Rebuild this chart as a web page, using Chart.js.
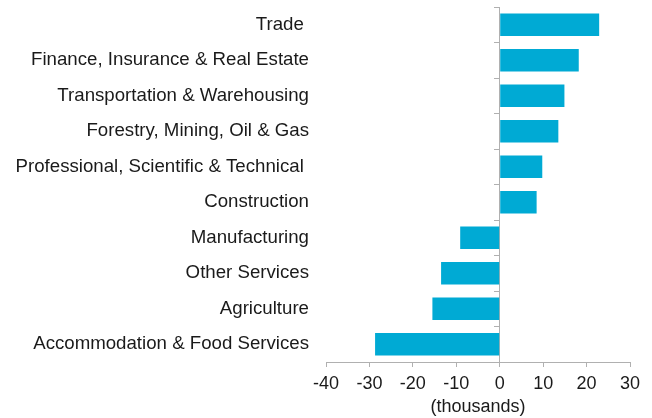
<!DOCTYPE html>
<html>
<head>
<meta charset="utf-8">
<script src="https://cdn.jsdelivr.net/npm/chart.js@4.4.1/dist/chart.umd.min.js"></script>
<style>
  html, body { margin: 0; padding: 0; background: #fff; }
  #wrap { width: 652px; height: 418px; }
</style>
</head>
<body>
<div id="wrap"><canvas id="barChart"></canvas></div>
<script>
var categories = [
  'Trade ',
  'Finance, Insurance & Real Estate',
  'Transportation & Warehousing',
  'Forestry, Mining, Oil & Gas',
  'Professional, Scientific & Technical ',
  'Construction',
  'Manufacturing',
  'Other Services',
  'Agriculture',
  'Accommodation & Food Services'
];
var changes = [22.9, 18.2, 14.9, 13.5, 9.8, 8.5, -9.1, -13.5, -15.5, -28.7];
var xMin = -40, xMax = 30, xStep = 10;
var xTitle = '(thousands)';

var axisGrey = '#b0b0b0';
var textColor = '#1a1a1a';
var fontFamily = "'Liberation Sans', Arial, sans-serif";

var ctx = document.getElementById('barChart');

var myBarChart = new Chart(ctx, {
  type: 'bar',
  data: {
    labels: categories,
    datasets: [{
      data: changes,
      backgroundColor: '#00aad4',
      borderWidth: 0,
      categoryPercentage: 1,
      barPercentage: 0.64
    }]
  },
  options: {
    indexAxis: 'y',
    responsive: true,
    maintainAspectRatio: false,
    animation: false,
    layout: {
      padding: { left: 14, right: 22, top: 7, bottom: 0 }
    },
    plugins: {
      legend: { display: false },
      tooltip: { enabled: false }
    },
    scales: {
      x: {
        min: xMin,
        max: xMax,
        afterFit: function (scale) {
          scale.height = 56;
        },
        ticks: {
          stepSize: xStep,
          color: textColor,
          padding: 6,
          font: { family: fontFamily, size: 18 }
        },
        grid: {
          drawOnChartArea: false,
          drawTicks: true,
          tickLength: 5,
          color: axisGrey
        },
        border: { display: true, color: axisGrey, width: 1 },
        title: {
          display: true,
          text: xTitle,
          color: textColor,
          padding: { top: 0, bottom: 0 },
          font: { family: fontFamily, size: 18 }
        }
      },
      y: {
        afterFit: function (scale) {
          scale.width = 312;
          scale.paddingTop = 0;
          scale.paddingBottom = 0;
        },
        ticks: {
          color: textColor,
          padding: 17,
          font: { family: fontFamily, size: 18.67 }
        },
        grid: { display: false, drawTicks: false },
        border: { display: false }
      },
      // the category axis line that sits on zero, with its small tick marks
      y2: {
        type: 'category',
        labels: categories,
        position: { x: 0 },
        afterFit: function (scale) {
          scale.paddingTop = 0;
          scale.paddingBottom = 0;
        },
        ticks: { display: false },
        grid: {
          offset: true,
          drawOnChartArea: false,
          drawTicks: true,
          tickLength: 5,
          color: axisGrey
        },
        border: { display: true, color: axisGrey, width: 1 }
      }
    }
  }
});
</script>
</body>
</html>
